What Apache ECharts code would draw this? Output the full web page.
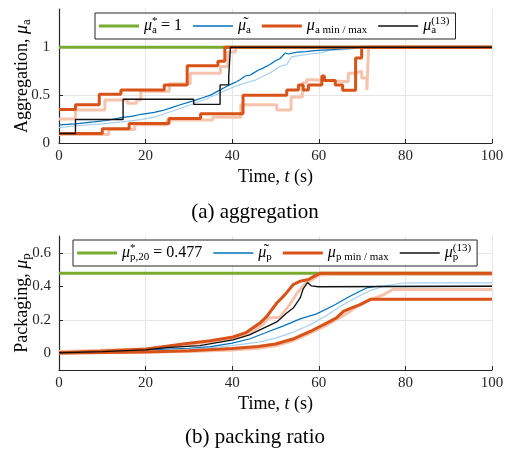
<!DOCTYPE html>
<html>
<head>
<meta charset="utf-8">
<script src="https://cdn.jsdelivr.net/npm/echarts@6/dist/echarts.min.js"></script>
<style>
html,body{margin:0;padding:0;background:#fff}
#chart{width:510px;height:456px}
</style>
</head>
<body>
<div id="chart"></div>
<script>
// ---- (a) aggregation : [t (s), mu_a] ----
var aggTarget = [[0, 1], [100, 1]];
// step curves, value holds until next point
var aggMax = [[0, 0.35], [3.8, 0.40], [9.3, 0.51], [14.3, 0.555], [24.3, 0.607], [29.6, 0.807], [36.7, 0.855], [38.3, 1], [100, 1]];
var aggMin = [[0, 0.10], [10, 0.15], [16.2, 0.204], [25.4, 0.257], [32.7, 0.305], [42.5, 0.50], [52.6, 0.555], [55.3, 0.607], [56.4, 0.555], [57.6, 0.607], [60.7, 0.70], [61.3, 0.653], [63.8, 0.607], [65.5, 0.55], [68.5, 0.888], [69.9, 1], [100, 1]];
var aggMax2 = [[0, 0.25], [3.8, 0.345], [10.6, 0.45], [15.8, 0.415], [17.9, 0.45], [18.9, 0.54], [25.5, 0.62], [30.3, 0.73], [37.3, 0.80], [39, 0.95], [40.8, 1], [100, 1]];
var aggMin2 = [[0, 0.09], [11.5, 0.14], [17.5, 0.19], [25, 0.24], [35.5, 0.27], [42, 0.40], [50.3, 0.345], [53.6, 0.48], [56.2, 0.63], [57.2, 0.66], [58.5, 0.64], [66.8, 0.73], [68.4, 0.75], [69.9, 0.68], [71.1, 0.555], [71.5, 1], [100, 1]];
var aggRun13 = [[0, 0.10], [3.8, 0.246], [14.8, 0.457], [31.1, 0.404], [37.2, 0.607], [39.2, 0.70], [39.6, 1], [100, 1]];
var aggMean = [[0, 0.19], [3.8, 0.20], [8, 0.22], [11, 0.235], [14.4, 0.265], [17, 0.28], [19, 0.30], [22, 0.32], [24, 0.34], [26, 0.37], [28, 0.40], [31, 0.44], [33, 0.47], [35, 0.50], [37, 0.55], [38.7, 0.59], [40, 0.62], [41, 0.64], [41.8, 0.66], [43, 0.70], [44.2, 0.71], [44.9, 0.73], [46, 0.76], [47, 0.78], [48.7, 0.82], [50, 0.86], [51, 0.88], [52.2, 0.94], [53, 0.93], [55, 0.95], [57, 0.955], [59, 0.965], [63, 0.975], [66, 0.985], [68.8, 0.99]];
var aggMean2 = [[0, 0.16], [4, 0.18], [10, 0.20], [14.4, 0.22], [19, 0.245], [22, 0.27], [24, 0.30], [28, 0.36], [31, 0.41], [34, 0.46], [37, 0.52], [40, 0.58], [41.8, 0.61], [44, 0.64], [45.5, 0.66], [47.2, 0.70], [49, 0.74], [51, 0.80], [52.6, 0.82], [53.7, 0.90], [55, 0.91], [58, 0.93], [60.7, 0.945], [62.6, 0.97], [66, 0.975], [69, 0.99]];

// ---- (b) packing ratio : [t (s), mu_p] ----
var packTarget = [[0, 0.477], [100, 0.477]];
var packMax = [[0, 0.003], [9.4, 0.012], [20.2, 0.026], [29.5, 0.058], [35, 0.075], [40.2, 0.097], [43.3, 0.125], [46.4, 0.18], [48, 0.22], [50.3, 0.30], [52.2, 0.35], [54.1, 0.41], [55.7, 0.43], [57.6, 0.44], [59.1, 0.462], [60.3, 0.477], [100, 0.477]];
var packMin = [[0, 0.002], [20, 0.008], [30, 0.015], [40, 0.028], [46, 0.04], [50, 0.055], [54, 0.085], [58, 0.13], [61.8, 0.18], [64, 0.21], [65.7, 0.25], [67, 0.265], [69.5, 0.29], [71.9, 0.322], [100, 0.322]];
var packMax2 = [[0, 0.01], [20, 0.025], [30, 0.05], [40, 0.09], [44, 0.12], [47, 0.17], [48.5, 0.21], [51, 0.215], [53, 0.28], [55, 0.36], [57, 0.42], [58.5, 0.44], [60, 0.465], [62, 0.47], [100, 0.47]];
var packMin2 = [[0, 0], [30, 0.01], [40, 0.02], [46, 0.03], [50, 0.045], [54, 0.075], [58, 0.12], [62, 0.17], [66, 0.23], [69, 0.28], [72, 0.32], [75, 0.35], [77, 0.38], [100, 0.38]];
var packRun13 = [[0, 0.003], [10, 0.01], [20, 0.02], [24.8, 0.033], [32.5, 0.046], [40.2, 0.08], [44, 0.11], [46.4, 0.14], [50.3, 0.187], [52.6, 0.24], [54.1, 0.27], [55.7, 0.33], [56.4, 0.385], [57.4, 0.422], [58.3, 0.402], [59.9, 0.397], [100, 0.40]];
var packMean = [[0, 0.005], [10, 0.01], [20, 0.02], [30, 0.03], [35, 0.04], [40, 0.06], [44, 0.085], [48, 0.125], [52, 0.165], [55.7, 0.205], [59.5, 0.235], [63.4, 0.285], [67.2, 0.34], [71, 0.39], [73.5, 0.40], [100, 0.40]];
var packMean2 = [[0, 0.003], [20, 0.012], [30, 0.02], [40, 0.045], [46.4, 0.068], [50, 0.09], [54, 0.125], [58, 0.17], [61.8, 0.225], [65, 0.28], [69.5, 0.345], [72, 0.375], [75, 0.40], [78.8, 0.418], [82, 0.42], [100, 0.42]];

var packYTicks = [0, 0.2, 0.4, 0.6];

var FONT = 'Liberation Serif';
var C_GREEN = '#77AC30', C_BLUE = '#0072BD', C_LBLUE = '#a6cff0',
    C_ORANGE = '#D95319', C_LORANGE = '#f6c3ae', C_BLACK = '#111';

function richSet(size) {
  var sub = Math.round(size * 0.7);
  return {
    m: {fontFamily: FONT, fontSize: size, lineHeight: size + 4, color: '#000'},
    mu: {fontFamily: FONT, fontSize: size, lineHeight: size + 4, fontStyle: 'italic', color: '#000'},
    i: {fontFamily: FONT, fontSize: size, lineHeight: size + 4, fontStyle: 'italic', color: '#000'},
    // tilde drawn back over the previous glyph
    tl: {fontFamily: FONT, fontSize: size, lineHeight: size, width: 0.01, align: 'right', verticalAlign: 'top', color: '#000', padding: [0, 0, 0, 0]},
    sub: {fontFamily: FONT, fontSize: sub, lineHeight: sub, verticalAlign: 'bottom', color: '#000'},
    sub0: {fontFamily: FONT, fontSize: sub, lineHeight: sub, verticalAlign: 'bottom', width: 0.01, align: 'left', color: '#000'},
    sup: {fontFamily: FONT, fontSize: sub, lineHeight: sub, verticalAlign: 'top', color: '#000'},
    sup0: {fontFamily: FONT, fontSize: sub, lineHeight: sub, verticalAlign: 'top', width: 0.01, align: 'left', color: '#000'}
  };
}
var richLegend = richSet(16);
var richAxis = richSet(18);

var legendText = {
  aT: '{mu|μ}{sup0|*}{sub|a}{m| = 1}',
  aMean: '{mu|μ}{tl|˜}{sub|a}',
  aMinMax: '{mu|μ}{sub|a min / max}',
  a13: '{mu|μ}{sub0|a}{sup|(13)}',
  pT: '{mu|μ}{sup0|*}{sub|p,20}{m| = 0.477}',
  pMean: '{mu|μ}{tl|˜}{sub|p}',
  pMinMax: '{mu|μ}{sub|p min / max}',
  p13: '{mu|μ}{sub0|p}{sup|(13)}'
};
var ICON_THICK = 'path://M0,0H40V3H0Z';
var ICON_THIN = 'path://M0,0H40V1.3H0Z';

function legendOpt(names, left, top) {
  return {
    data: [
      {name: names[0], icon: ICON_THICK},
      {name: names[1], icon: ICON_THIN},
      {name: names[2], icon: ICON_THICK},
      {name: names[3], icon: ICON_THIN}
    ],
    left: left, top: top,
    formatter: function (n) { return legendText[n]; },
    textStyle: {rich: richLegend},
    itemWidth: 40, itemHeight: 12, itemGap: 11,
    padding: [3, 6, 3, 4], borderColor: '#262626', borderWidth: 1, borderRadius: 0,
    backgroundColor: '#fff', selectedMode: false
  };
}

function xAxisOpt(idx) {
  return {
    type: 'value', gridIndex: idx, min: 0, max: 100, interval: 20,
    name: '{m|Time, }{i|t}{m| (s)}', nameLocation: 'middle', nameGap: 23,
    nameTextStyle: {rich: richAxis},
    axisLine: {onZero: false, lineStyle: {color: '#262626', width: 1.2}},
    axisTick: {inside: true, length: 4, lineStyle: {color: '#262626'}},
    axisLabel: {fontFamily: FONT, fontSize: 15, color: '#262626', margin: 6},
    splitLine: {show: true, lineStyle: {color: '#e6e6e6', width: 1}}
  };
}

function line(name, data, xi, color, width, step, z) {
  return {
    name: name, type: 'line', xAxisIndex: xi, yAxisIndex: xi, data: data,
    step: step ? 'end' : false, showSymbol: false, symbol: 'none',
    lineStyle: {color: color, width: width}, itemStyle: {color: color},
    z: z, silent: true, animation: false
  };
}

var chart = echarts.init(document.getElementById('chart'), null, {renderer: 'canvas'});

var option = {
  backgroundColor: '#fff',
  animation: false,
  title: [
    {text: '(a) aggregation', left: 'center', top: 202, padding: 0,
     textStyle: {fontFamily: FONT, fontSize: 21, fontWeight: 'normal', color: '#000'}},
    {text: '(b) packing ratio', left: 'center', top: 427, padding: 0,
     textStyle: {fontFamily: FONT, fontSize: 21, fontWeight: 'normal', color: '#000'}}
  ],
  grid: [
    {left: 59, right: 18, top: 9, height: 134, outerBoundsMode: 'none'},
    {left: 59, right: 18, top: 236, height: 134, outerBoundsMode: 'none'}
  ],
  legend: [
    legendOpt(['aT', 'aMean', 'aMinMax', 'a13'], 95, 13),
    legendOpt(['pT', 'pMean', 'pMinMax', 'p13'], 73, 240)
  ],
  xAxis: [xAxisOpt(0), xAxisOpt(1)],
  yAxis: [
    {
      type: 'value', gridIndex: 0, min: 0, max: 1.4, interval: 0.5,
      name: '{m|Aggregation, }{i|μ}{sub|a}', nameLocation: 'middle', nameGap: 26, nameMoveOverlap: false,
      nameTextStyle: {rich: richAxis},
      axisLine: {show: true, lineStyle: {color: '#262626', width: 1.2}},
      axisTick: {show: true, inside: true, length: 4, lineStyle: {color: '#262626'}},
      axisLabel: {fontFamily: FONT, fontSize: 15, color: '#262626', margin: 9, showMaxLabel: false},
      splitLine: {show: true, lineStyle: {color: ['#e6e6e6', '#e6e6e6', '#e6e6e6', 'rgba(0,0,0,0)'], width: 1}}
    },
    {
      type: 'value', gridIndex: 1, min: -0.1, max: 0.7, interval: 0.1,
      name: '{m|Packaging, }{i|μ}{sub|p}', nameLocation: 'middle', nameGap: 26, nameMoveOverlap: false,
      nameTextStyle: {rich: richAxis},
      axisLine: {show: true, lineStyle: {color: '#262626', width: 1.2}},
      axisTick: {show: true, inside: true, length: 4, customValues: packYTicks, lineStyle: {color: '#262626'}},
      axisLabel: {
        fontFamily: FONT, fontSize: 15, color: '#262626', margin: 8, customValues: packYTicks,
        formatter: function (v) {
          var k = Math.round(v * 10);
          return (k % 2 === 0 && k >= 0 && k <= 6) ? String(k / 10) : '';
        }
      },
      splitLine: {show: true, lineStyle: {color: ['rgba(0,0,0,0)', '#e6e6e6'], width: 1}}
    }
  ],
  series: [
    // aggregation
    line('aMax2', aggMax2, 0, C_LORANGE, 3, true, 1),
    line('aMin2', aggMin2, 0, C_LORANGE, 3, true, 1),
    line('aMean2', aggMean2, 0, C_LBLUE, 1.2, false, 2),
    line('aT', aggTarget, 0, C_GREEN, 3, false, 3),
    line('aMean', aggMean, 0, C_BLUE, 1.2, false, 4),
    line('aMinMax', aggMax, 0, C_ORANGE, 3, true, 5),
    line('aMinMax', aggMin, 0, C_ORANGE, 3, true, 5),
    line('a13', aggRun13, 0, C_BLACK, 1.4, true, 6),
    // packing ratio
    line('pMax2', packMax2, 1, C_LORANGE, 3, false, 1),
    line('pMin2', packMin2, 1, C_LORANGE, 3, false, 1),
    line('pMean2', packMean2, 1, C_LBLUE, 1.2, false, 2),
    line('pT', packTarget, 1, C_GREEN, 3, false, 3),
    line('pMean', packMean, 1, C_BLUE, 1.2, false, 4),
    line('pMinMax', packMax, 1, C_ORANGE, 3, false, 5),
    line('pMinMax', packMin, 1, C_ORANGE, 3, false, 5),
    line('p13', packRun13, 1, C_BLACK, 1.3, false, 6)
  ]
};

chart.setOption(option);
</script>
</body>
</html>
